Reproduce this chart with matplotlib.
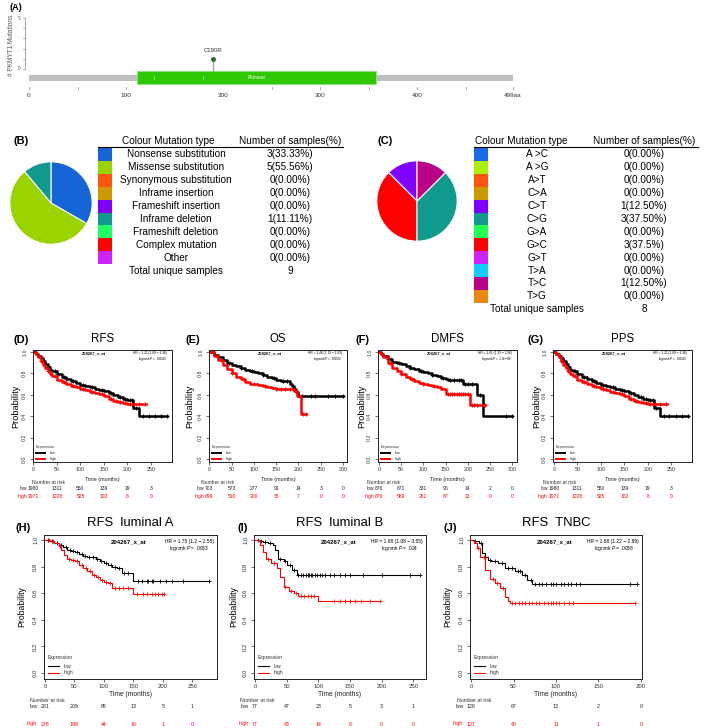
import matplotlib
matplotlib.use('Agg')
import matplotlib.pyplot as plt
from matplotlib.patches import Rectangle
from matplotlib.transforms import blended_transform_factory
import numpy as np

plt.rcParams['font.family'] = ['Liberation Sans', 'DejaVu Sans']
plt.rcParams['mathtext.fontset'] = 'custom'
plt.rcParams['mathtext.it'] = 'Liberation Sans:italic'
plt.rcParams['mathtext.rm'] = 'Liberation Sans'

# ---------------- Panel A data ----------------
protein_length = 499
domain_label = 'Pkinase'
domain_range = [111, 358]
mutation_positions = [190]
mutation_counts = [1]
mutation_labels = ['C190R']
a_tick_values = [0, 100, 200, 300, 400, 499]
a_tick_labels = ['0', '100', '200', '300', '400', '499aa']
a_minor_ticks = [50, 250, 350, 450]

# ---------------- Panel B data ----------------
b_types = ['Nonsense substitution', 'Missense substitution', 'Synonymous substitution',
           'Inframe insertion', 'Frameshift insertion', 'Inframe deletion',
           'Frameshift deletion', 'Complex mutation', 'Other']
b_counts = [3, 5, 0, 0, 0, 1, 0, 0, 0]
b_pct = ['3(33.33%)', '5(55.56%)', '0(0.00%)', '0(0.00%)', '0(0.00%)', '1(11.11%)',
         '0(0.00%)', '0(0.00%)', '0(0.00%)']
b_total = 9
b_colors = ['#1565d6', '#99d400', '#ff5511', '#cc9900', '#8000ff', '#109a8e',
            '#22ff66', '#ff0000', '#cc22ff']

# ---------------- Panel C data ----------------
c_types = ['A >C', 'A >G', 'A>T', 'C>A', 'C>T', 'C>G', 'G>A', 'G>C', 'G>T', 'T>A', 'T>C', 'T>G']
c_counts = [0, 0, 0, 0, 1, 3, 0, 3, 0, 0, 1, 0]
c_pct = ['0(0.00%)', '0(0.00%)', '0(0.00%)', '0(0.00%)', '1(12.50%)', '3(37.50%)',
         '0(0.00%)', '3(37.5%)', '0(0.00%)', '0(0.00%)', '1(12.50%)', '0(0.00%)']
c_total = 8
c_colors = ['#1a6ae8', '#aaf000', '#ff5511', '#cc9900', '#8000ff', '#109a8e',
            '#22ff55', '#ff0000', '#cc22ff', '#11ccff', '#bb0088', '#e88a10']
c_pie_order = ['C>T', 'G>C', 'C>G', 'T>C']

# ---------------- KM data ----------------
rfs_low_t = [0, 5, 10, 15, 20, 25, 30, 35, 40, 50, 60, 70, 80, 90, 100, 110, 120, 130, 140, 150, 160, 170, 180, 190, 200, 213, 225]
rfs_low_s = [1.0, 0.985, 0.965, 0.94, 0.915, 0.89, 0.86, 0.835, 0.82, 0.79, 0.765, 0.745, 0.725, 0.71, 0.695, 0.68, 0.67, 0.655, 0.645, 0.635, 0.615, 0.595, 0.58, 0.565, 0.55, 0.48, 0.40]
rfs_low_end = 285
rfs_low_cens = [15, 30, 45, 65, 85, 105, 125, 145, 165, 185, 195, 205, 210, 218, 234, 246, 259, 272, 285]
rfs_high_t = [0, 5, 10, 15, 20, 25, 30, 35, 40, 50, 60, 70, 80, 90, 100, 110, 120, 130, 140, 150, 160, 170, 180, 190, 200]
rfs_high_s = [1.0, 0.98, 0.95, 0.915, 0.88, 0.85, 0.82, 0.795, 0.775, 0.74, 0.72, 0.70, 0.685, 0.67, 0.655, 0.645, 0.63, 0.62, 0.605, 0.585, 0.56, 0.545, 0.53, 0.52, 0.515]
rfs_high_end = 240
rfs_high_cens = [15, 30, 45, 65, 85, 105, 125, 145, 165, 175, 185, 195, 205, 215, 225, 238]
rfs_risk_low = [1980, 1311, 550, 139, 19, 3]
rfs_risk_high = [1971, 1208, 525, 102, 8, 0]

os_low_t = [0, 10, 20, 30, 40, 50, 60, 70, 80, 90, 100, 110, 120, 130, 140, 150, 160, 170, 180, 185, 190, 195, 200]
os_low_s = [1, 0.975, 0.95, 0.925, 0.9, 0.88, 0.865, 0.85, 0.835, 0.825, 0.81, 0.80, 0.785, 0.77, 0.755, 0.74, 0.73, 0.725, 0.70, 0.68, 0.65, 0.63, 0.585]
os_low_end = 300
os_low_cens = [20, 45, 70, 95, 120, 145, 165, 175, 207, 229, 236, 266, 281, 300]
os_high_t = [0, 10, 20, 30, 40, 50, 60, 70, 80, 90, 100, 110, 120, 130, 140, 150, 160, 170, 180, 190, 197, 205]
os_high_s = [1, 0.965, 0.93, 0.88, 0.84, 0.80, 0.77, 0.745, 0.72, 0.705, 0.70, 0.695, 0.68, 0.67, 0.66, 0.655, 0.655, 0.655, 0.65, 0.64, 0.585, 0.42]
os_high_end = 218
os_high_cens = [25, 50, 75, 100, 125, 150, 160, 170, 180, 195, 210, 218]
os_risk_low = [703, 573, 277, 91, 14, 3, 0]
os_risk_high = [699, 510, 200, 38, 7, 0, 0]

dmfs_low_t = [0, 5, 10, 20, 30, 40, 50, 60, 70, 80, 90, 100, 110, 120, 130, 140, 150, 155, 190, 221, 234]
dmfs_low_s = [1, 0.985, 0.965, 0.935, 0.91, 0.895, 0.885, 0.87, 0.855, 0.84, 0.825, 0.81, 0.80, 0.785, 0.775, 0.76, 0.745, 0.735, 0.70, 0.60, 0.40]
dmfs_low_end = 300
dmfs_low_cens = [20, 45, 70, 95, 120, 145, 160, 170, 180, 186, 195, 200, 210, 228, 287, 300]
dmfs_high_t = [0, 5, 10, 20, 30, 40, 50, 60, 70, 80, 90, 100, 110, 120, 130, 140, 150, 205]
dmfs_high_s = [1, 0.98, 0.95, 0.90, 0.855, 0.82, 0.79, 0.765, 0.745, 0.73, 0.715, 0.70, 0.69, 0.68, 0.67, 0.655, 0.61, 0.505]
dmfs_high_end = 240
dmfs_high_cens = [25, 50, 75, 100, 125, 155, 160, 165, 170, 175, 180, 185, 190, 195, 200, 210, 215, 220, 240]
dmfs_risk_low = [876, 671, 331, 96, 14, 2, 0]
dmfs_risk_high = [870, 569, 261, 67, 13, 0, 0]

lumA_low_t = [0, 8, 15, 23, 30, 37, 44, 51, 58, 65, 72, 79, 86, 93, 100, 107, 114, 122, 130, 149]
lumA_low_s = [1, 0.995, 0.98, 0.96, 0.945, 0.925, 0.915, 0.91, 0.895, 0.88, 0.875, 0.87, 0.855, 0.84, 0.825, 0.81, 0.80, 0.79, 0.755, 0.695]
lumA_low_end = 278
lumA_low_cens = [5, 12, 20, 28, 35, 42, 48, 55, 62, 68, 75, 82, 88, 95, 104, 112, 118, 126, 134, 141, 158, 164, 173, 175, 181, 184, 195, 206, 215, 235, 278]
lumA_high_t = [0, 8, 15, 23, 28, 33, 37, 44, 51, 58, 65, 72, 79, 86, 93, 100, 107, 113, 150]
lumA_high_s = [1, 0.99, 0.975, 0.955, 0.925, 0.89, 0.86, 0.85, 0.84, 0.815, 0.79, 0.765, 0.74, 0.72, 0.70, 0.685, 0.675, 0.64, 0.595]
lumA_high_end = 202
lumA_high_cens = [6, 14, 25, 40, 47, 55, 62, 70, 76, 84, 90, 97, 104, 110, 119, 126, 133, 141, 156, 167, 173, 181, 187, 192, 198, 202]
lumA_risk_low = [281, 209, 65, 13, 5, 1]
lumA_risk_high = [278, 198, 44, 16, 1, 0]

lumB_low_t = [0, 8, 13, 21, 29, 32, 37, 45, 50, 58, 66]
lumB_low_s = [1, 0.99, 0.985, 0.975, 0.96, 0.925, 0.86, 0.845, 0.81, 0.775, 0.74]
lumB_low_end = 260
lumB_low_cens = [4, 10, 16, 24, 40, 48, 55, 62, 68, 72, 76, 80, 84, 86, 88, 90, 94, 98, 102, 106, 110, 118, 124, 134, 142, 150, 171, 200, 245, 260]
lumB_high_t = [0, 8, 13, 18, 26, 34, 39, 45, 53, 61, 68, 100]
lumB_high_s = [1, 0.96, 0.91, 0.86, 0.83, 0.79, 0.725, 0.65, 0.62, 0.60, 0.58, 0.545]
lumB_high_end = 197
lumB_high_cens = [20, 30, 48, 57, 65, 72, 78, 83, 88, 93, 124, 134, 142, 150, 158, 168, 182, 197]
lumB_risk_low = [77, 47, 23, 5, 3, 1]
lumB_risk_high = [77, 43, 14, 6, 0, 0]

tnbc_low_t = [0, 3, 9, 13, 17, 20, 24, 32, 40, 52, 60, 66, 72]
tnbc_low_s = [1, 0.99, 0.975, 0.90, 0.875, 0.85, 0.84, 0.825, 0.79, 0.77, 0.74, 0.70, 0.67]
tnbc_low_end = 195
tnbc_low_cens = [5, 12, 22, 28, 36, 44, 48, 55, 58, 64, 70, 75, 80, 84, 88, 94, 96, 100, 106, 110, 114, 118, 124, 128, 187, 195]
tnbc_high_t = [0, 3, 7, 11, 17, 22, 28, 34, 40, 44, 46]
tnbc_high_s = [1, 0.975, 0.94, 0.875, 0.775, 0.71, 0.675, 0.64, 0.575, 0.54, 0.53]
tnbc_high_end = 193
tnbc_high_cens = [8, 15, 26, 31, 38, 48, 52, 56, 60, 64, 68, 72, 76, 80, 86, 90, 94, 96, 100, 104, 110, 115, 120, 193]
tnbc_risk_low = [128, 67, 13, 2, 0]
tnbc_risk_high = [127, 40, 11, 1, 0]

# ---------------- figure ----------------
W, H = 709, 728
fig = plt.figure(figsize=(W / 100, H / 100), dpi=100)


def box(x0, y0, x1, y1):
    return [x0 / W, 1 - y1 / H, (x1 - x0) / W, (y1 - y0) / H]


ov = fig.add_axes([0, 0, 1, 1])
ov.set_xlim(0, W)
ov.set_ylim(H, 0)
ov.axis('off')

# ---------------- Panel A ----------------
axA = fig.add_axes(box(0, 0, 709, 110))
axA.set_xlim(-29 / 0.97, 680 / 0.97)
axA.set_ylim(-41 / 10.2, 69 / 10.2)
axA.axis('off')
axA.add_patch(Rectangle((0, -1.18), protein_length, 0.59, facecolor='#bfbfbf', edgecolor='none'))
axA.add_patch(Rectangle((domain_range[0], -1.47), domain_range[1] - domain_range[0], 1.27,
                        facecolor='#2ec800', edgecolor='#8ee27e', lw=0.8))
axA.text((domain_range[0] + domain_range[1]) / 2, -0.83, domain_label, color='white',
         fontsize=3.6, ha='center', va='center')
for xm in [129, 179]:
    axA.plot([xm, xm], [-0.7, -0.98], color='#b8f0a8', lw=0.5)
for pos, cnt, lab in zip(mutation_positions, mutation_counts, mutation_labels):
    axA.plot([pos, pos], [-0.2, cnt], color='#a0a0a0', lw=1.0)
    axA.plot([pos], [cnt], 'o', ms=2.6, color='#2d6e2d')
    axA.text(pos, cnt + 0.86, lab, fontsize=4.3, ha='center', va='center', color='#333333')
# y axis
axA.plot([-4.1, -4.1], [0, 5], color='#999999', lw=0.6)
for yv in range(6):
    axA.plot([-6.3, -4.1], [yv, yv], color='#999999', lw=0.5)
for yv in [0, 5]:
    axA.text(-8.8, yv, str(yv), fontsize=3.4, ha='right', va='center', color='#555555')
ov.text(12, 45, '# PKMYT1 Mutations', rotation=90, fontsize=4.7, color='#555555',
        ha='center', va='center')
for xv in list(a_tick_values) + list(a_minor_ticks):
    if xv in (150, 200):
        continue
    axA.plot([xv, xv], [-1.76, -1.98], color='#999999', lw=0.6)
for xv, lab in zip(a_tick_values, a_tick_labels):
    axA.text(xv, -2.55, lab, fontsize=4.6, ha='center', va='center', color='#333333')
ov.text(10, 7, '(A)', fontsize=6.5, fontweight='bold', ha='left', va='center')

# ---------------- Panels B, C (pies + tables) ----------------
axPB = fig.add_axes(box(9, 161, 93, 245))
vals = [c for c in b_counts if c > 0]
cols = [col for c, col in zip(b_counts, b_colors) if c > 0]
axPB.pie(vals, colors=cols, startangle=90, counterclock=False,
         wedgeprops=dict(edgecolor='white', linewidth=0.8))
axPB.set_xlim(-1.02, 1.02)
axPB.set_ylim(-1.02, 1.02)
axPB.set_aspect('equal')

axPC = fig.add_axes(box(376, 160, 458, 242))
idx = [c_types.index(k) for k in c_pie_order]
axPC.pie([c_counts[i] for i in idx], colors=[c_colors[i] for i in idx], startangle=90,
         counterclock=True, wedgeprops=dict(edgecolor='white', linewidth=0.8))
axPC.set_xlim(-1.02, 1.02)
axPC.set_ylim(-1.02, 1.02)
axPC.set_aspect('equal')

ov.text(13, 141.5, '(B)', fontsize=8, fontweight='bold', ha='left', va='center')
ov.text(377, 141.5, '(C)', fontsize=8, fontweight='bold', ha='left', va='center')


def draw_table(types, pcts, colors, total, sq_x, hdr_x, name_x, num_x, line_x1):
    top, rh, fs = 148.0, 12.9, 7.2
    ov.text(hdr_x, 141.5, 'Colour Mutation type', fontsize=fs, ha='center', va='center')
    ov.text(num_x, 141.5, 'Number of samples(%)', fontsize=fs, ha='center', va='center')
    ov.plot([sq_x, line_x1], [147.3, 147.3], color='black', lw=0.8)
    for i, (t, p, c) in enumerate(zip(types, pcts, colors)):
        ov.add_patch(Rectangle((sq_x, top + i * rh), 14, rh, facecolor=c, edgecolor='none'))
        yc = top + (i + 0.5) * rh
        ov.text(name_x, yc, t, fontsize=fs, ha='center', va='center')
        ov.text(num_x, yc, p, fontsize=fs, ha='center', va='center')
    yc = top + (len(types) + 0.5) * rh
    ov.text(name_x, yc, 'Total unique samples', fontsize=fs, ha='center', va='center')
    ov.text(num_x, yc, str(total), fontsize=fs, ha='center', va='center')


draw_table(b_types, b_pct, b_colors, b_total, 98, 168, 176, 290, 343)
draw_table(c_types, c_pct, c_colors, c_total, 474, 521, 537, 644, 698)

# ---------------- KM panels ----------------
panels = [
    dict(lab='(D)', lab_x=13, title='RFS', box=(33, 350, 172, 462), xlim=(-1, 295),
         xticks=[0, 50, 100, 150, 200, 250],
         low=(rfs_low_t, rfs_low_s, rfs_low_end, rfs_low_cens),
         high=(rfs_high_t, rfs_high_s, rfs_high_end, rfs_high_cens),
         rl=rfs_risk_low, rh=rfs_risk_high, hr='HR = 1.22 (1.09 \u2212 1.36)', p='.00045',
         nar_x=32, ylab=-0.094),
    dict(lab='(E)', lab_x=185, title='OS', box=(209, 350, 347, 462), xlim=(-1, 309),
         xticks=[0, 50, 100, 150, 200, 250, 300],
         low=(os_low_t, os_low_s, os_low_end, os_low_cens),
         high=(os_high_t, os_high_s, os_high_end, os_high_cens),
         rl=os_risk_low, rh=os_risk_high, hr='HR = 1.48 (1.19 \u2212 1.83)', p='.00032',
         nar_x=201, ylab=-0.105),
    dict(lab='(F)', lab_x=356, title='DMFS', box=(378, 350, 517, 462), xlim=(-2, 311),
         xticks=[0, 50, 100, 150, 200, 250, 300],
         low=(dmfs_low_t, dmfs_low_s, dmfs_low_end, dmfs_low_cens),
         high=(dmfs_high_t, dmfs_high_s, dmfs_high_end, dmfs_high_cens),
         rl=dmfs_risk_low, rh=dmfs_risk_high, hr='HR = 1.61 (1.33 \u2212 1.96)', p='1.4e\u221206',
         nar_x=367, ylab=-0.088),
    dict(lab='(G)', lab_x=528, title='PPS', box=(553, 350, 692, 462), xlim=(-2, 294),
         xticks=[0, 50, 100, 150, 200, 250],
         low=(rfs_low_t, rfs_low_s, rfs_low_end, rfs_low_cens),
         high=(rfs_high_t, rfs_high_s, rfs_high_end, rfs_high_cens),
         rl=rfs_risk_low, rh=rfs_risk_high, hr='HR = 1.22 (1.09 \u2212 1.36)', p='.00045',
         nar_x=543, ylab=-0.088),
    dict(lab='(H)', lab_x=16, title='RFS  luminal A', box=(44, 535, 217, 679), xlim=(-1.7, 292),
         xticks=[0, 50, 100, 150, 200, 250],
         low=(lumA_low_t, lumA_low_s, lumA_low_end, lumA_low_cens),
         high=(lumA_high_t, lumA_high_s, lumA_high_end, lumA_high_cens),
         rl=lumA_risk_low, rh=lumA_risk_high, hr='HR = 1.75 (1.2 \u2212 2.55)', p='.0033',
         nar_x=30, big=True, ylab=-0.104),
    dict(lab='(I)', lab_x=237, title='RFS  luminal B', box=(254, 535, 426, 679), xlim=(-1.6, 270),
         xticks=[0, 50, 100, 150, 200, 250],
         low=(lumB_low_t, lumB_low_s, lumB_low_end, lumB_low_cens),
         high=(lumB_high_t, lumB_high_s, lumB_high_end, lumB_high_cens),
         rl=lumB_risk_low, rh=lumB_risk_high, hr='HR = 1.98 (1.08 \u2212 3.55)', p='.024',
         nar_x=240, big=True, ylab=-0.09),
    dict(lab='(J)', lab_x=443, title='RFS  TNBC', box=(470, 535, 642, 679), xlim=(-1.2, 201.2),
         xticks=[0, 50, 100, 150, 200],
         low=(tnbc_low_t, tnbc_low_s, tnbc_low_end, tnbc_low_cens),
         high=(tnbc_high_t, tnbc_high_s, tnbc_high_end, tnbc_high_cens),
         rl=tnbc_risk_low, rh=tnbc_risk_high, hr='HR = 1.88 (1.22 \u2212 2.89)', p='.0038',
         nar_x=457, big=True, ylab=-0.104),
]

for P in panels:
    big = P.get('big', False)
    x0, y0, x1, y1 = P['box']
    ax = fig.add_axes(box(x0, y0, x1, y1))
    ax.set_xlim(*P['xlim'])
    if big:
        ax.set_ylim(-0.045, 1.038)
    else:
        ax.set_ylim(-0.028, 1.019)
    lw = 0.8 if big else 1.8
    ms = 3.2 if big else 2.6
    for (t, s, end, cens), col in [(P['low'], 'black'), (P['high'], 'red')]:
        tt = list(t) + [end]
        ss = list(s) + [s[-1]]
        ax.step(tt, ss, where='post', color=col, lw=lw)
        ta = np.array(t)
        cy = [s[np.searchsorted(ta, c, side='right') - 1] for c in cens]
        ax.plot(cens, cy, '+', color=col, ms=ms, mew=0.6 if big else 0.8, ls='none')
    for sp in ax.spines.values():
        sp.set_linewidth(0.7)
        sp.set_color('#222222')
    tick_fs = 4.3 if big else 3.8
    ax.set_xticks(P['xticks'])
    ax.set_xticklabels([str(v) for v in P['xticks']])
    yt = [0, 0.2, 0.4, 0.6, 0.8, 1.0]
    ax.set_yticks(yt)
    ax.set_yticklabels(['%.1f' % v for v in yt], rotation=90, va='center')
    ax.tick_params(axis='both', labelsize=tick_fs, length=2.2, width=0.5, colors='#333333')
    ax.tick_params(axis='x', pad=1.2)
    ax.tick_params(axis='y', pad=2.0)
    ax.set_ylabel('Probability', fontsize=6.2 if big else 6.6)
    ax.yaxis.set_label_coords(P['ylab'], 0.5)
    h_px = y1 - y0
    tl_y = (479 - 462) / h_px if not big else (694 - 679) / h_px
    ax.text(0.5, -tl_y, 'Time (months)', transform=ax.transAxes, ha='center', va='center',
            fontsize=4.8 if big else 3.9, color='#222222')
    # title & label
    ttl_y = 523 if big else 339
    ov.text((x0 + x1) / 2, ttl_y, P['title'], fontsize=9.4 if big else 8.3, ha='center', va='center')
    ov.text(P['lab_x'], ttl_y + (5 if big else 1), P['lab'], fontsize=8, fontweight='bold',
            ha='left', va='center')
    # annotations
    if big:
        ax.text(0.49, 0.955, '204267_x_at', transform=ax.transAxes, fontsize=4.3, fontweight='bold',
                ha='center', va='center')
        ax.text(0.98, 0.955, P['hr'], transform=ax.transAxes, fontsize=3.5, ha='right', va='center')
        ax.text(0.955, 0.905, 'logrank $P$ = ' + P['p'], transform=ax.transAxes, fontsize=3.5,
                ha='right', va='center')
    else:
        ax.text(0.44, 0.97, '204267_x_at', transform=ax.transAxes, fontsize=2.9, fontweight='bold',
                ha='center', va='center')
        ax.text(0.965, 0.972, P['hr'], transform=ax.transAxes, fontsize=2.3, ha='right', va='center')
        ax.text(0.965, 0.922, 'logrank $P$ = ' + P['p'], transform=ax.transAxes, fontsize=2.3,
                ha='right', va='center')
    # legend
    if big:
        lx0, lx1, ltx, ey, ly, hy, lfs = 0.023, 0.087, 0.116, 0.146, 0.09, 0.042, 3.6
    else:
        lx0, lx1, ltx, ey, ly, hy, lfs = 0.02, 0.085, 0.12, 0.134, 0.08, 0.03, 2.8
    ax.text(lx0, ey, 'Expression', transform=ax.transAxes, fontsize=lfs, ha='left', va='center',
            color='#333333')
    ax.plot([lx0, lx1], [ly, ly], transform=ax.transAxes, color='black', lw=0.8 if big else 1.4)
    ax.plot([lx0, lx1], [hy, hy], transform=ax.transAxes, color='red', lw=0.8 if big else 1.4)
    ax.text(ltx, ly, 'low', transform=ax.transAxes, fontsize=lfs, ha='left', va='center', color='#333333')
    ax.text(ltx, hy, 'high', transform=ax.transAxes, fontsize=lfs, ha='left', va='center', color='#333333')
    # risk table
    tr = blended_transform_factory(ax.transData, ov.transData)
    if big:
        nar_y, rl_y, rh_y, rfs_ = 700, 707, 724, 3.8
    else:
        nar_y, rl_y, rh_y, rfs_ = 483, 488.5, 496.5, 3.6
    ov.text(P['nar_x'], nar_y, 'Number at risk', fontsize=rfs_, ha='left', va='center', color='#333333')
    for vals_, yy, col, lab in [(P['rl'], rl_y, '#222222', 'low'), (P['rh'], rh_y, 'red', 'high')]:
        for xv, n in zip(P['xticks'], vals_):
            ax.text(xv, yy, str(n), transform=tr, fontsize=rfs_, ha='center', va='center', color=col,
                    clip_on=False)
        off = len(str(vals_[0])) * 0.556 * rfs_ / 2 + (2.5 if big else 0.4)
        ax.annotate(lab, xy=(P['xticks'][0], yy), xycoords=tr, xytext=(-off, 0),
                    textcoords='offset points', fontsize=rfs_, ha='right', va='center', color=col,
                    annotation_clip=False)

fig.savefig('out.png', dpi=100)
